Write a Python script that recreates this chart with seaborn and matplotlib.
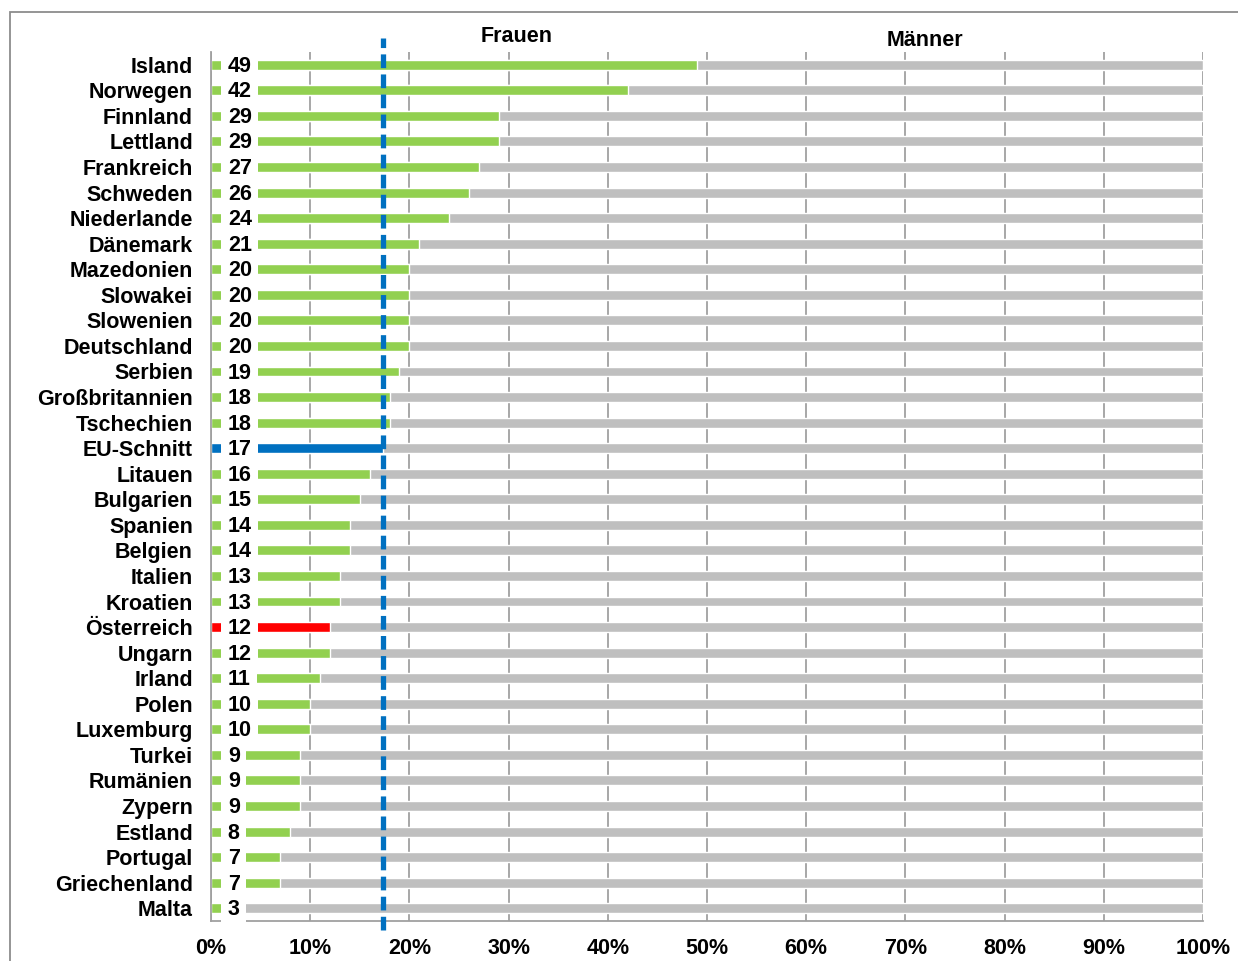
import matplotlib
matplotlib.use('Agg')
import matplotlib.pyplot as plt
from matplotlib.patches import Rectangle
from matplotlib.ticker import FixedLocator, PercentFormatter
import seaborn as sns
import numpy as np

# data
countries = ['Island', 'Norwegen', 'Finnland', 'Lettland', 'Frankreich', 'Schweden',
             'Niederlande', 'Dänemark', 'Mazedonien', 'Slowakei', 'Slowenien',
             'Deutschland', 'Serbien', 'Großbritannien', 'Tschechien', 'EU-Schnitt',
             'Litauen', 'Bulgarien', 'Spanien', 'Belgien', 'Italien', 'Kroatien',
             'Österreich', 'Ungarn', 'Irland', 'Polen', 'Luxemburg', 'Turkei',
             'Rumänien', 'Zypern', 'Estland', 'Portugal', 'Griechenland', 'Malta']
frauen = [49, 42, 29, 29, 27, 26, 24, 21, 20, 20, 20, 20, 19, 18, 18, 17.3,
          16, 15, 14, 14, 13, 13, 12, 12, 11, 10, 10, 9, 9, 9, 8, 7, 7, 3]
total = [100] * len(countries)
eu_avg = 17.3
header_labels = ['Frauen', 'Männer']

GREEN = '#92D050'
GRAY = '#BFBFBF'
BLUE = '#0070C0'
RED = '#FF0000'
bar_colors = [BLUE if c == 'EU-Schnitt' else RED if c == 'Österreich' else GREEN
              for c in countries]

sns.set_style('white')
plt.rcParams['font.family'] = ['Liberation Sans', 'DejaVu Sans']
plt.rcParams['font.weight'] = 'bold'
plt.rcParams['text.color'] = 'black'

fig = plt.figure(figsize=(12.38, 9.61), dpi=100)
ax = fig.add_axes([211/1238, 1-921/961, 992/1238, 869/961])

# men = rest up to 100%, drawn behind the women bars
sns.barplot(x=total, y=countries, color=GRAY, orient='h', width=0.39,
            saturation=1, ax=ax)
sns.barplot(x=frauen, y=countries, hue=countries, palette=bar_colors, orient='h',
            width=0.39, saturation=1, legend=False, ax=ax)

# value labels with white boxes
for i, v in enumerate(frauen):
    ax.text(1.7, i + 0.06, f'{v:.0f}', ha='left', va='center', fontsize=15.5,
            fontweight='bold', color='black',
            bbox=dict(boxstyle='square,pad=0.3', fc='white', ec='none'), zorder=5)

# EU average dashed line
ax.axvline(eu_avg, ymin=-0.0104, ymax=1.016, color=BLUE, lw=3.8,
           dashes=(2.6, 1.2), dash_capstyle='butt',
           clip_on=False, zorder=6)

ax.set_xlim(0, 100)
ax.set_ylim(len(countries) - 0.5, -0.5)
ax.set_xlabel('')
ax.set_ylabel('')
ax.xaxis.set_major_locator(FixedLocator(np.arange(0, 101, 10)))
ax.xaxis.set_major_formatter(PercentFormatter(decimals=0))
ax.yaxis.set_minor_locator(FixedLocator(np.arange(-0.5, len(countries), 1)))
ax.grid(axis='x', color='#A0A0A0', lw=1.3)
ax.set_axisbelow(True)

ax.tick_params(axis='y', which='major', length=0, pad=13, labelsize=15.5,
               labelcolor='black')
ax.tick_params(axis='y', which='minor', length=5, width=1.2, color='#A0A0A0')
ax.tick_params(axis='x', length=5, width=1.2, color='#A0A0A0', pad=7, labelsize=15.5,
               labelcolor='black')
for lab in ax.get_xticklabels() + ax.get_yticklabels():
    lab.set_fontweight('bold')

sns.despine(ax=ax, top=True, right=True)
for s in ['left', 'bottom']:
    ax.spines[s].set_color('#A0A0A0')
    ax.spines[s].set_linewidth(1.3)

# header labels
ax.text(30.8, 1.018, header_labels[0], transform=ax.get_xaxis_transform(),
        ha='center', va='center', fontsize=15.5, fontweight='bold')
ax.text(72, 1.0127, header_labels[1], transform=ax.get_xaxis_transform(),
        ha='center', va='center', fontsize=15.5, fontweight='bold')

# outer chart border
fig.patches.append(Rectangle((10/1238, -0.1), 1.2, 1 - 12/961 + 0.1,
                             transform=fig.transFigure, fill=False,
                             ec='#8C8C8C', lw=1.3))

fig.savefig('out.png', dpi=100)
